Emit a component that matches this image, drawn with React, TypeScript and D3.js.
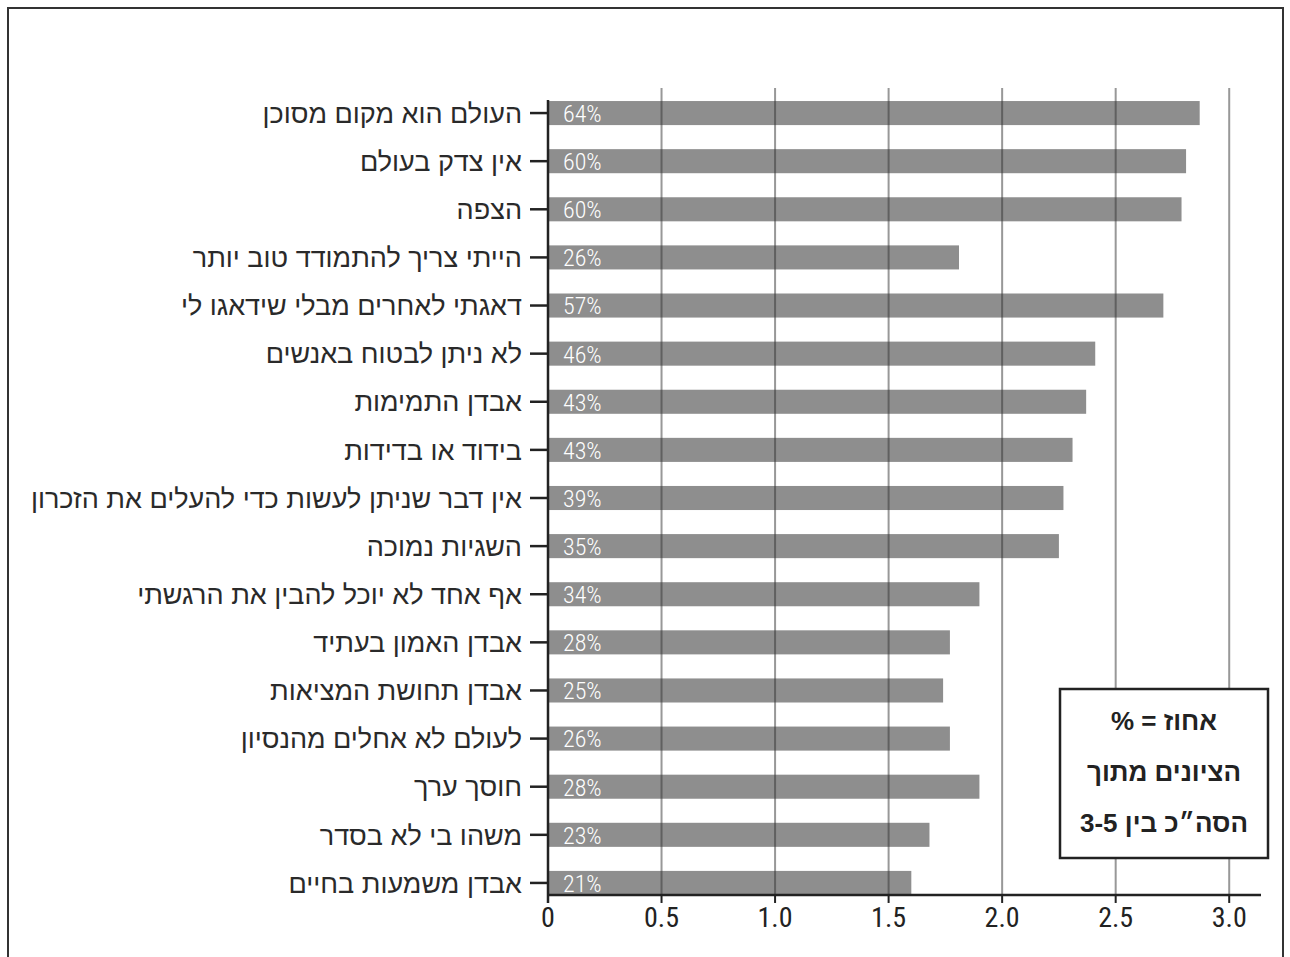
import React from "react";
import { scaleLinear, scaleBand } from "d3";

const labels = [
  "העולם הוא מקום מסוכן",
  "אין צדק בעולם",
  "הצפה",
  "הייתי צריך להתמודד טוב יותר",
  "דאגתי לאחרים מבלי שידאגו לי",
  "לא ניתן לבטוח באנשים",
  "אבדן התמימות",
  "בידוד או בדידות",
  "אין דבר שניתן לעשות כדי להעלים את הזכרון",
  "השגיות נמוכה",
  "אף אחד לא יוכל להבין את הרגשתי",
  "אבדן האמון בעתיד",
  "אבדן תחושת המציאות",
  "לעולם לא אחלים מהנסיון",
  "חוסך ערך",
  "משהו בי לא בסדר",
  "אבדן משמעות בחיים",
];

const means = [2.87, 2.81, 2.79, 1.81, 2.71, 2.41, 2.37, 2.31, 2.27, 2.25, 1.9, 1.77, 1.74, 1.77, 1.9, 1.68, 1.6];

const percents = [64, 60, 60, 26, 57, 46, 43, 43, 39, 35, 34, 28, 25, 26, 28, 23, 21];

const xTicks = [0, 0.5, 1.0, 1.5, 2.0, 2.5, 3.0];

const legendLines = ["אחוז = %", "הציונים מתוך", "הסה״כ בין 3-5"];

const W = 1290;
const H = 957;

export default function App() {
  const x = scaleLinear().domain([0, 3.14]).range([548, 1261]);
  const y = scaleBand<string>()
    .domain(labels)
    .range([89, 907])
    .paddingInner(0.5)
    .paddingOuter(0.25);

  const axisY = (y(labels[labels.length - 1]) ?? 0) + y.bandwidth();
  const top = 88;
  const numFont = "'Roboto Condensed', 'Liberation Sans Narrow', Roboto, sans-serif";
  const hebFont = "'Liberation Sans', 'DejaVu Sans', sans-serif";

  return (
    <div style={{ position: "absolute", left: 0, top: 0 }}>
      <svg width={W} height={H} viewBox={`0 0 ${W} ${H}`}>
        <rect x={0} y={0} width={W} height={H} fill="#fff" />
        {/* outer frame */}
        <rect x={8} y={8} width={1275} height={H} fill="none" stroke="#333" strokeWidth={2} />

        {/* bars */}
        {labels.map((l, i) => (
          <rect
            key={l}
            x={x(0)}
            y={y(l)}
            width={x(means[i]) - x(0)}
            height={y.bandwidth()}
            fill="#8e8e8e"
          />
        ))}

        {/* grid lines, drawn over bars */}
        {xTicks.slice(1).map((t) => (
          <line
            key={t}
            x1={x(t)}
            x2={x(t)}
            y1={top}
            y2={axisY}
            stroke="rgba(50,50,50,0.5)"
            strokeWidth={2}
          />
        ))}

        {/* percent labels */}
        {labels.map((l, i) => (
          <text
            key={l}
            x={x(0) + 15}
            y={(y(l) ?? 0) + y.bandwidth() / 2}
            dy="0.37em"
            fill="#fff"
            fontSize={24}
            fontWeight={300}
            fontFamily={numFont}
          >
            {percents[i]}%
          </text>
        ))}

        {/* y axis */}
        <line x1={x(0)} x2={x(0)} y1={100} y2={axisY + 8} stroke="#222" strokeWidth={2.5} />
        {labels.map((l) => {
          const cy = (y(l) ?? 0) + y.bandwidth() / 2;
          return (
            <g key={l}>
              <line x1={x(0) - 18} x2={x(0)} y1={cy} y2={cy} stroke="#222" strokeWidth={2.5} />
              <text
                x={x(0) - 26}
                y={cy}
                dy="0.36em"
                textAnchor="end"
                fontSize={27}
                fill="#2a2a2a"
                fontFamily={hebFont}
              >
                {l}
              </text>
            </g>
          );
        })}

        {/* x axis */}
        <line x1={x(0)} x2={x(3.14)} y1={axisY} y2={axisY} stroke="#222" strokeWidth={2.5} />
        {xTicks.map((t) => (
          <g key={t}>
            <line x1={x(t)} x2={x(t)} y1={axisY} y2={axisY + 8} stroke="#222" strokeWidth={2} />
            <text
              x={x(t)}
              y={axisY + 32}
              textAnchor="middle"
              fontSize={28}
              fill="#222"
              fontFamily={numFont}
            >
              {t === 0 ? "0" : t.toFixed(1)}
            </text>
          </g>
        ))}

        {/* legend */}
        <rect x={1060} y={689} width={208} height={169} fill="#fff" stroke="#222" strokeWidth={2.5} />
        {legendLines.map((s, i) => (
          <text
            key={s}
            x={1164}
            y={721 + i * 51}
            dy="0.35em"
            textAnchor="middle"
            direction="rtl"
            fontSize={26}
            fontWeight="bold"
            fill="#222"
            fontFamily={hebFont}
          >
            {s}
          </text>
        ))}
      </svg>
    </div>
  );
}
